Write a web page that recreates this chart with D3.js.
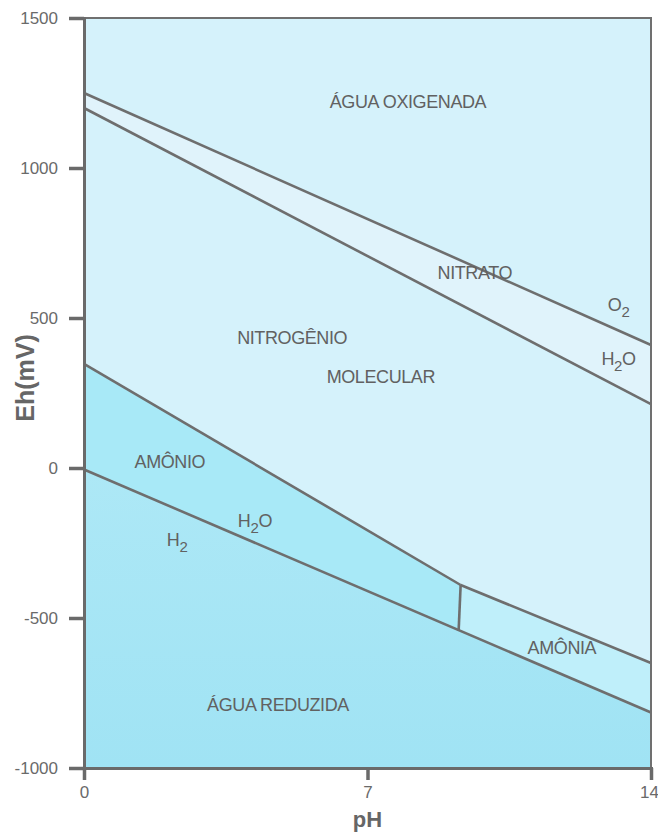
<!DOCTYPE html>
<html>
<head>
<meta charset="utf-8">
<script src="https://cdn.jsdelivr.net/npm/d3@7"></script>
<style>
  body { margin: 0; background: #fff; }
  svg text { font-family: "Liberation Sans", Arial, sans-serif; }
</style>
</head>
<body>
<svg width="658" height="834"></svg>
<script>
// pH range and Eh range
var phTicks = [0, 7, 14];
var ehTicks = [-1000, -500, 0, 500, 1000, 1500];

// boundary lines (Eh in mV at the given pH values)
var o2PH = [0, 14], o2Eh = [1250, 410];
var nitratePH = [0, 14], nitrateEh = [1200, 213];
var amonioPH = [0, 9.3], amonioEh = [347, -390];
var amoniaPH = [9.3, 14], amoniaEh = [-390, -650];
var h2PH = [0, 14], h2Eh = [-5, -815];

// region labels: text, pH, Eh (subscripted ones are split in parts)
var labels = [
    { t: "ÁGUA OXIGENADA", ph: 8.0, eh: 1220 },
    { t: "NITRATO", ph: 9.65, eh: 650 },
    { t: ["O", "2"], ph: 13.2, eh: 543 },
    { t: ["H", "2", "O"], ph: 13.2, eh: 362 },
    { t: "NITROGÊNIO", ph: 5.14, eh: 433 },
    { t: "MOLECULAR", ph: 7.33, eh: 303 },
    { t: "AMÔNIO", ph: 2.12, eh: 20 },
    { t: ["H", "2", "O"], ph: 4.22, eh: -177 },
    { t: ["H", "2"], ph: 2.3, eh: -240 },
    { t: "AMÔNIA", ph: 11.8, eh: -600 },
    { t: "ÁGUA REDUZIDA", ph: 4.79, eh: -790 }
];

var svg = d3.select('svg');
var x = d3.scaleLinear().domain([0, 14]).range([84, 651]);
var y = d3.scaleLinear().domain([-1000, 1500]).range([768, 18]);

function lerp(xs, ys, p) {
    return ys[0] + (ys[1] - ys[0]) * (p - xs[0]) / (xs[1] - xs[0]);
}

var line = d3.line().x(d => x(d[0])).y(d => y(d[1]));

function poly(pts, color) {
    svg.append('path')
        .attr('d', line(pts) + 'Z')
        .attr('fill', color);
}

var splitPH = amonioPH[1];
var h2Split = lerp(h2PH, h2Eh, splitPH);

// background (água oxigenada / nitrogênio)
poly([[0, 1500], [14, 1500], [14, -1000], [0, -1000]], '#d5f2fb');
// nitrate strip
poly([[0, o2Eh[0]], [14, o2Eh[1]], [14, nitrateEh[1]], [0, nitrateEh[0]]], '#e0f3fb');
// amônio
poly([[0, amonioEh[0]], [splitPH, amonioEh[1]], [splitPH, h2Split], [0, h2Eh[0]]], '#a8e9f7');
// amônia
poly([[splitPH, amoniaEh[0]], [14, amoniaEh[1]], [14, h2Eh[1]], [splitPH, h2Split]], '#bfeffa');
// água reduzida
var grad = svg.append('defs').append('linearGradient')
    .attr('id', 'red').attr('x1', 0).attr('x2', 0).attr('y1', 0).attr('y2', 1);
grad.append('stop').attr('offset', '0%').attr('stop-color', '#ade8f6');
grad.append('stop').attr('offset', '100%').attr('stop-color', '#a0e3f4');
poly([[0, h2Eh[0]], [14, h2Eh[1]], [14, -1000], [0, -1000]], 'url(#red)');

// boundary lines
var lineColor = '#6e6e6e';
[[o2PH, o2Eh], [nitratePH, nitrateEh], [amonioPH, amonioEh], [amoniaPH, amoniaEh], [h2PH, h2Eh],
 [[splitPH, splitPH - 0.05], [amonioEh[1], h2Split]]].forEach(function(l) {
    svg.append('path')
        .attr('d', line([[l[0][0], l[1][0]], [l[0][1], l[1][1]]]))
        .attr('fill', 'none')
        .attr('stroke', lineColor)
        .attr('stroke-width', 2.6);
});

// frame
svg.append('rect')
    .attr('x', x(0)).attr('y', y(1500))
    .attr('width', x(14) - x(0)).attr('height', y(-1000) - y(1500))
    .attr('fill', 'none').attr('stroke', '#707070').attr('stroke-width', 2);

// axes
var yAxis = svg.append('g')
    .attr('transform', 'translate(' + x(0) + ',0)')
    .call(d3.axisLeft(y).tickValues(ehTicks).tickSize(15).tickPadding(11)
        .tickFormat(d => String(d)));
var xAxis = svg.append('g')
    .attr('transform', 'translate(0,' + y(-1000) + ')')
    .call(d3.axisBottom(x).tickValues(phTicks).tickSize(12).tickPadding(6)
        .tickFormat(d => String(d)));

[yAxis, xAxis].forEach(function(a) {
    a.select('.domain').attr('stroke', '#6a6a6a').attr('stroke-width', 3);
    a.selectAll('.tick line').attr('stroke', '#6a6a6a').attr('stroke-width', 3.5);
    a.selectAll('.tick text')
        .attr('fill', '#6a6a6a')
        .style('font-family', '"Liberation Sans", Arial, sans-serif')
        .style('font-size', '17px');
});
xAxis.selectAll('.tick text').filter(d => d === 14).attr('dx', -2);

// axis titles
svg.append('text')
    .attr('transform', 'translate(34,' + y(300) + ') rotate(-90)')
    .attr('text-anchor', 'middle')
    .attr('fill', '#666')
    .style('font-size', '25px').style('font-weight', 'bold')
    .text('Eh(mV)');
svg.append('text')
    .attr('x', x(7)).attr('y', 827)
    .attr('text-anchor', 'middle')
    .attr('fill', '#666')
    .style('font-size', '22px').style('font-weight', 'bold')
    .text('pH');

// region labels
labels.forEach(function(l) {
    var t = svg.append('text')
        .attr('x', x(l.ph)).attr('y', y(l.eh))
        .attr('text-anchor', 'middle')
        .attr('dominant-baseline', 'central')
        .attr('fill', '#616161')
        .style('font-size', '18px')
        .style('letter-spacing', '-0.4px');
    if (typeof l.t === 'string') {
        t.text(l.t);
    } else {
        l.t.forEach(function(s, i) {
            var sp = t.append('tspan').text(s);
            if (i === 1) sp.attr('dy', 6).style('font-size', '15px');
            if (i === 2) sp.attr('dy', -6);
        });
    }
});
</script>
</body>
</html>
